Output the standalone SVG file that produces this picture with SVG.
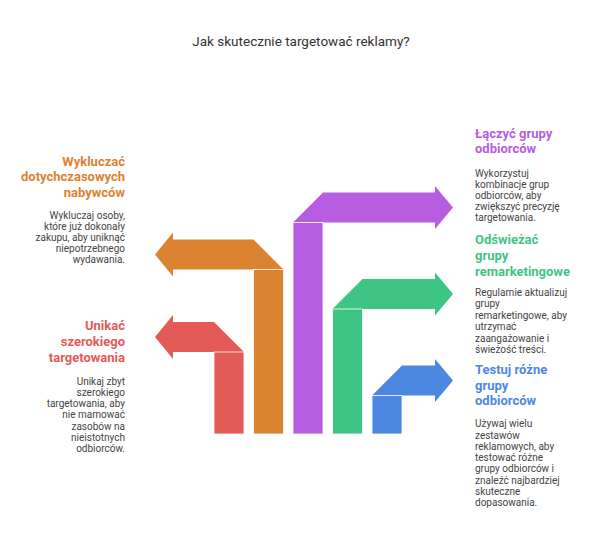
<svg xmlns="http://www.w3.org/2000/svg" width="600" height="543" viewBox="0 0 600 543">
<defs>
<style>
text{font-family:Roboto,"Liberation Sans",sans-serif}
.ttl{font-size:13.5px;fill:#333}
.h{font-size:13px;font-weight:bold}
.d{font-size:10px;fill:#444}
.l{text-anchor:end}
.bar{stroke:#fff;stroke-width:0.8}
.red{fill:#e35a56}
.org{fill:#dc8331}
.pur{fill:#b65de2}
.grn{fill:#3ec585}
.blu{fill:#4c88e1}
</style>
</defs>
<rect width="600" height="543" fill="#fff"/>
<text class="ttl" x="301" y="46" text-anchor="middle">Jak skutecznie targetować reklamy?</text>
<g id="connectors">
<g id="arrow-red">
<polygon class="red" points="155,337 173,315 173,322 214,322 244,352 173,352 173,359"/>
<rect class="red bar" x="214" y="352" width="30" height="82"/>
</g>
<g id="arrow-orange">
<polygon class="org" points="155,254.5 173,232.5 173,239.5 253.5,239.5 283.5,269.5 173,269.5 173,276.5"/>
<rect class="org bar" x="253.5" y="269.5" width="30" height="164.5"/>
</g>
<g id="arrow-purple">
<polygon class="pur" points="453,207.5 435,186 435,192.5 323,192.5 293,222.5 435,222.5 435,229"/>
<rect class="pur bar" x="293" y="222.5" width="30" height="211.5"/>
</g>
<g id="arrow-green">
<polygon class="grn" points="453,294 435,272.5 435,279 362.5,279 332.5,309 435,309 435,315.5"/>
<rect class="grn bar" x="332.5" y="309" width="30" height="125"/>
</g>
<g id="arrow-blue">
<polygon class="blu" points="453,380.5 435,359 435,365.5 402,365.5 372,395.5 435,395.5 435,402"/>
<rect class="blu bar" x="372" y="395.5" width="30" height="38.5"/>
</g>
</g>
<g id="node-wykluczac">
<text class="h l" fill="#dc8331"><tspan x="125" y="165.5">Wykluczać</tspan><tspan x="125" y="181">dotychczasowych</tspan><tspan x="125" y="196.5">nabywców</tspan></text>
<text class="d l"><tspan x="125" y="218.5">Wykluczaj osoby,</tspan><tspan x="125" y="229.5">które już dokonały</tspan><tspan x="125" y="240.5">zakupu, aby uniknąć</tspan><tspan x="125" y="251.5">niepotrzebnego</tspan><tspan x="125" y="262.5">wydawania.</tspan></text>
</g>
<g id="node-unikac">
<text class="h l" fill="#e35a56"><tspan x="125" y="330">Unikać</tspan><tspan x="125" y="346">szerokiego</tspan><tspan x="125" y="362">targetowania</tspan></text>
<text class="d l"><tspan x="125" y="385">Unikaj zbyt</tspan><tspan x="125" y="396">szerokiego</tspan><tspan x="125" y="407">targetowania, aby</tspan><tspan x="125" y="418">nie marnować</tspan><tspan x="125" y="429.5">zasobów na</tspan><tspan x="125" y="440.5">nieistotnych</tspan><tspan x="125" y="451.5">odbiorców.</tspan></text>
</g>
<g id="node-laczyc">
<text class="h" fill="#b65de2"><tspan x="475" y="137.5">Łączyć grupy</tspan><tspan x="475" y="153">odbiorców</tspan></text>
<text class="d"><tspan x="475" y="176.5">Wykorzystuj</tspan><tspan x="475" y="187.5">kombinacje grup</tspan><tspan x="475" y="198.5">odbiorców, aby</tspan><tspan x="475" y="209.5">zwiększyć precyzję</tspan><tspan x="475" y="220.5">targetowania.</tspan></text>
</g>
<g id="node-odswiezac">
<text class="h" fill="#3ec585"><tspan x="475" y="243.5">Odświeżać</tspan><tspan x="475" y="259.5">grupy</tspan><tspan x="475" y="275.5">remarketingowe</tspan></text>
<text class="d"><tspan x="475" y="295.5">Regularnie aktualizuj</tspan><tspan x="475" y="307">grupy</tspan><tspan x="475" y="318.5">remarketingowe, aby</tspan><tspan x="475" y="330">utrzymać</tspan><tspan x="475" y="341.5">zaangażowanie i</tspan><tspan x="475" y="353">świeżość treści.</tspan></text>
</g>
<g id="node-testuj">
<text class="h" fill="#4c88e1"><tspan x="475" y="374">Testuj różne</tspan><tspan x="475" y="389.5">grupy</tspan><tspan x="475" y="405">odbiorców</tspan></text>
<text class="d"><tspan x="475" y="427">Używaj wielu</tspan><tspan x="475" y="438.5">zestawów</tspan><tspan x="475" y="449.7">reklamowych, aby</tspan><tspan x="475" y="461">testować różne</tspan><tspan x="475" y="472.3">grupy odbiorców i</tspan><tspan x="475" y="483.5">znaleźć najbardziej</tspan><tspan x="475" y="494.7">skuteczne</tspan><tspan x="475" y="506">dopasowania.</tspan></text>
</g>
</svg>
